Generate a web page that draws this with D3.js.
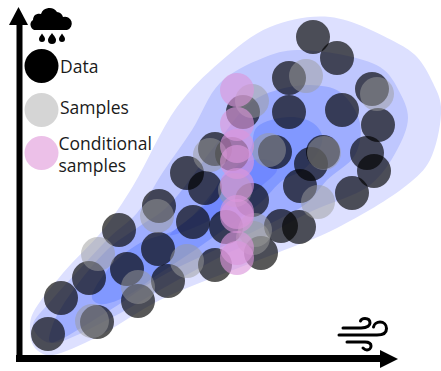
<!DOCTYPE html>
<html>
<head>
<meta charset="utf-8">
<script src="https://cdn.jsdelivr.net/npm/d3@7"></script>
<style>
	html, body { margin: 0; padding: 0; background: #fff; }
	text { font-family: "Open Sans", sans-serif; font-size: 17.5px; fill: #1a1a1a; }
</style>
</head>
<body>
<div id="chart-area"></div>
<script>
// SVG Size
let width = 441,
	height = 371;

// all values as [wind, rain]
let dataPoints = [[294,321],[318,300],[270,280],[270,246],[323,248],[353,269],[359,233],[348,205],[355,187],
	[224,246],[256,206],[304,206],[292,194],[281,172],[333,165],[196,209],[213,204],[168,185],[186,170],
	[233,158],[174,136],[207,131],[262,132],[280,131],[242,105],[196,93],[140,152],[100,128],[139,109],
	[108,89],[70,80],[149,77],[42,60],[119,57],[78,36],[29,24]];

let samplePoints = [[287,282],[358,264],[233,257],[250,208],[305,205],[299,156],[191,203],[216,168],
	[236,128],[234,120],[138,142],[79,104],[168,97],[119,71],[73,37]];

// conditional samples all sit at one wind value
let conditionWind = 218;
let conditionalRain = [268,234,212,196,173,146,142,110,100];

// density contours, outermost first
let contour1 = [[11,33],[14,13],[24,4],[34,3],[78,21],[141,58],[201,83],[258,105],[318,130],[388,173],[411,198],
	[422,251],[414,275],[398,301],[378,315],[311,341],[251,331],[201,296],[158,251],[114,172],[84,128],[44,85],[14,45]];
let contour2 = [[14,33],[21,20],[34,15],[94,41],[141,68],[201,101],[244,121],[291,146],[351,173],[378,208],[389,240],
	[381,265],[361,291],[278,308],[244,300],[201,275],[173,228],[144,186],[118,145],[91,121],[58,86],[31,56]];
let contour3 = [[31,16],[33,31],[44,53],[88,108],[118,130],[148,151],[198,215],[231,255],[258,268],[291,273],[321,266],
	[341,235],[336,203],[308,178],[288,155],[264,141],[211,115],[141,81],[91,48]];
let contour4 = [[73,60],[91,91],[121,115],[161,131],[204,178],[231,208],[238,231],[271,241],[294,235],[303,223],[301,210],
	[284,188],[264,178],[241,155],[211,133],[176,108],[141,85],[104,60],[81,54]];
let contour5 = [[151,123],[186,153],[206,183],[234,198],[254,196],[258,188],[241,171],[216,153],[181,133]];

let contours = [contour1, contour2, contour3, contour4, contour5];
let contourColors = ['#dde0ff', '#bfc7fe', '#9eadff', '#8198ff', '#7088ff'];

let legendLabels = [['Data'], ['Samples'], ['Conditional', 'samples']];
let legendColors = ['#000000', '#d5d5d5', '#ecc0e8'];

let xScale = d3.scaleLinear().domain([0, 361]).range([19, 380]);
let yScale = d3.scaleLinear().domain([0, 333]).range([358, 25]);

let svg = d3.select('#chart-area')
			.append('svg')
			.attr('width', width)
			.attr('height', height)
			.style('display', 'block');

let line = d3.line()
			.x(d => xScale(d[0]))
			.y(d => yScale(d[1]))
			.curve(d3.curveCatmullRomClosed.alpha(0.5));

svg.selectAll('path.contour')
	.data(contours)
	.enter()
	.append('path')
	.attr('class', 'contour')
	.attr('d', line)
	.attr('fill', (d, i) => contourColors[i]);

function dots(points, color, opacity) {
	svg.append('g')
		.selectAll('circle')
		.data(points)
		.enter()
		.append('circle')
		.attr('r', 17)
		.attr('cx', d => xScale(d[0]))
		.attr('cy', d => yScale(d[1]))
		.attr('fill', color)
		.attr('fill-opacity', opacity);
}

dots(dataPoints, '#000000', 0.66);
dots(samplePoints, '#9b9b9b', 0.5);
dots(conditionalRain.map(r => [conditionWind, r]), '#db96db', 0.64);

// axes: only the domain line, arrow heads on top
let xAxis = d3.axisBottom(xScale).tickValues([]).tickSizeOuter(0);
let yAxis = d3.axisLeft(yScale).tickValues([]).tickSizeOuter(0);

svg.append('g')
	.attr('transform', 'translate(0,' + yScale(0) + ')')
	.call(xAxis)
	.select('.domain')
	.attr('stroke', '#000')
	.attr('stroke-width', 7)
	.attr('stroke-linecap', 'square');

svg.append('g')
	.attr('transform', 'translate(' + xScale(0) + ',0)')
	.call(yAxis)
	.select('.domain')
	.attr('stroke', '#000')
	.attr('stroke-width', 6)
	.attr('stroke-linecap', 'square');

svg.append('path').attr('d', 'M380,350L398,359L380,368Z').attr('fill', '#000');
svg.append('path').attr('d', 'M9,25L18.5,7L28,25Z').attr('fill', '#000');

// legend
let legendCy = [66, 110, 153];
let legendTextY = [[73], [114], [150, 172]];
let legend = svg.append('g');
legendLabels.forEach((lines, i) => {
	legend.append('circle')
		.attr('cx', 41.5).attr('cy', legendCy[i]).attr('r', 17)
		.attr('fill', legendColors[i]);
	lines.forEach((t, j) => {
		legend.append('text')
			.attr('x', lines.length > 1 ? 58.5 : 60)
			.attr('y', legendTextY[i][j])
			.text(t);
	});
});

// rain cloud icon
let cloud = svg.append('g').attr('fill', '#000');
cloud.append('path').attr('d', 'M37,30a5.5,5.5 0 0 1 -4,-10a6,6 0 0 1 8,-6a9,9 0 0 1 16,-2a7,7 0 0 1 6,5a6.5,6.5 0 0 1 4,13Z');
cloud.append('path').attr('d', 'M42,33.5c2,3 3,4 3,5.5a3,3 0 0 1 -6,0c0,-1.500 1,-2.500 3,-5.500Z');
cloud.append('path').attr('d', 'M52,33c3,4 4,5.500 4,7a4,4 0 0 1 -8,0c0,-1.500 1,-3 4,-7Z');
cloud.append('path').attr('d', 'M62,33.500c2,3 3,4 3,5.500a3,3 0 0 1 -6,0c0,-1.500 1,-2.500 3,-5.500Z');

// wind icon
let wind = svg.append('g').attr('fill', 'none').attr('stroke', '#000').attr('stroke-width', 3).attr('stroke-linecap', 'round');
wind.append('path').attr('d', 'M343,328h18c7,0 9,-3 9,-5c0,-3 -2,-4.500 -5,-4.500c-2,0 -4,1 -4.500,2.500');
wind.append('path').attr('d', 'M339,335h38c7,0 9.500,-3 9.500,-6.500c0,-4 -3,-6.500 -6.500,-6.500c-3,0 -6,2 -6.500,5');
wind.append('path').attr('d', 'M347,342h18c4,0 6,1.500 6,4c0,2.500 -2,4 -4,4c-2,0 -3,-1 -4,-2');
</script>
</body>
</html>
